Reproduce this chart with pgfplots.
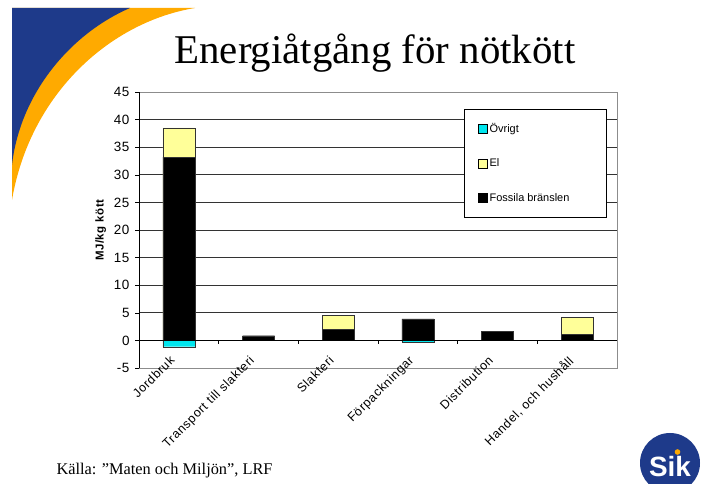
\documentclass[border=0pt]{standalone}
\usepackage{pgfplots}
\pgfplotsset{compat=1.18}
\usepackage{fontspec}
\setmainfont{Liberation Serif}
\setsansfont{Liberation Sans}
\newfontfamily\axfont[LetterSpace=5]{Liberation Sans}
\definecolor{ovr}{RGB}{0,230,238}
\definecolor{elc}{RGB}{255,255,153}
\definecolor{sikblue}{RGB}{30,58,138}
\definecolor{sikorange}{RGB}{255,170,0}
\begin{document}
\begin{tikzpicture}[x=1bp,y=1bp]
\useasboundingbox (0,0) rectangle (712,484);
\begin{scope}
\clip (0,0) rectangle (712,484);
\fill[sikorange] (12,476) -- (195,476) .. controls (110,462) and (30,390) .. (12,284) -- cycle;
\fill[sikblue] (12,476) -- (130,476) .. controls (70,450) and (20,390) .. (12,319) -- cycle;
\fill[sikblue] (670,21) circle (30);
\node[white, font=\sffamily\bfseries\fontsize{28}{28}\selectfont] at (670,17) {Sik};
\fill[sikorange] (677.5,32) circle (2.8);
\end{scope}
\node[font=\fontsize{41}{41}\selectfont] at (375,431) {Energiåtgång för nötkött};
\node[anchor=west, font=\fontsize{16.4}{16.4}\selectfont] at (53,13) {Källa: ”Maten och Miljön”, LRF};
\begin{axis}[
  at={(139bp,116bp)}, anchor=south west,
  width=478bp, height=276bp, scale only axis,
  xmin=-0.5, xmax=5.5, ymin=-5, ymax=45,
  ytick={-5,0,5,10,15,20,25,30,35,40,45},
  xtick={0,1,2,3,4,5},
  xticklabels={Jordbruk, Transport till slakteri, Slakteri, Förpackningar, Distribution, {Handel, och hushåll}},
  x tick label style={xshift=-10bp, yshift=22bp, rotate=45, anchor=north east, font=\axfont\fontsize{12.5}{12.5}\selectfont},
  major x tick style={draw=none},
  ytick pos=left,
  y tick label style={xshift=-2bp, font=\axfont\fontsize{13.5}{13.5}\selectfont},
  /pgf/number format/assume math mode=true,
  ymajorgrids, grid style={black!80, line width=0.6pt},
  axis line style={draw=black!45},
  tick align=outside, major tick length=4bp,
  y tick style={black},
  ylabel={\textbf{MJ/kg kött}},
  ylabel style={font=\axfont\fontsize{11.5}{11.5}\selectfont, yshift=1bp},
  legend image code/.code={\draw[#1] (0bp,-4.5bp) rectangle (9bp,4.5bp);},
  legend style={at={(0.68,0.94)}, anchor=north west, draw=black, fill=white,
    font=\sffamily\fontsize{11}{11}\selectfont, row sep=21bp, inner xsep=14bp, inner ysep=12.5bp},
  legend cell align=left,
]
\addplot[ybar, bar width=32bp, bar shift=0pt, fill=elc, draw=black!80, forget plot]
  coordinates {(0,38.5) (2,4.6) (5,4.2)};
\addplot[ybar, bar width=32bp, bar shift=0pt, fill=black, draw=black!80, forget plot]
  coordinates {(0,33.2) (1,0.85) (2,2.0) (3,3.9) (4,1.6) (5,1.15)};
\addplot[ybar, bar width=32bp, bar shift=0pt, fill=ovr, draw=black!80, forget plot]
  coordinates {(0,-1.15) (3,-0.25)};
\draw[black, line width=0.8pt] (axis cs:-0.5,0) -- (axis cs:5.5,0);
\pgfplotsinvokeforeach{0.5,1.5,2.5,3.5,4.5}{\draw[black] (axis cs:#1,0) -- ([yshift=-4bp]axis cs:#1,0);}
\draw[black, line width=0.8pt] (rel axis cs:0,0) -- (rel axis cs:0,1);
\addlegendimage{fill=ovr, draw=black}
\addlegendentry{Övrigt}
\addlegendimage{fill=elc, draw=black}
\addlegendentry{El}
\addlegendimage{fill=black, draw=black}
\addlegendentry{Fossila bränslen\hspace*{21bp}\mbox{}}
\end{axis}
\end{tikzpicture}
\end{document}
